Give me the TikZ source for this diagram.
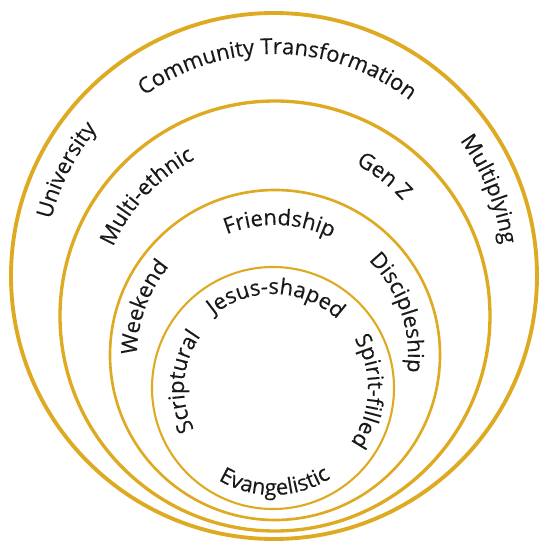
\documentclass[tikz,border=0pt]{standalone}
\usepackage{fontspec}
\setmainfont{Open Sans}[FakeBold=0.3]
\usetikzlibrary{decorations.text}

\definecolor{gold}{RGB}{222,170,34}
\definecolor{ink}{RGB}{25,25,25}

\begin{document}
\begin{tikzpicture}[
	ring/.style={draw=gold, line width=#1},
	curved/.style={decorate, decoration={text along path, text align=center,
		text color=ink, text={|\fontsize{12.5}{15}\selectfont|#1}}}]
	\useasboundingbox (0,0) rectangle (10.86,10.90);

	\coordinate (C1) at (5.48,5.38);
	\coordinate (C2) at (5.50,4.58);
	\coordinate (C3) at (5.50,3.80);
	\coordinate (C4) at (5.46,3.14);

	\draw[ring=2.2pt] (C1) circle (5.26);
	\draw[ring=1.9pt] (C2) circle (4.30);
	\draw[ring=1.5pt] (C3) circle (3.30);
	\draw[ring=1.2pt] (C4) circle (2.42);

	% outer band
	\path[curved={Community Transformation}] ([shift={(149:4.44)}]C1) arc[start angle=149, end angle=29, radius=4.44];
	\path[curved={University}] ([shift={(193:4.60)}]C1) arc[start angle=193, end angle=113, radius=4.60];
	\path[curved={Multiplying}] ([shift={(62:4.60)}]C1) arc[start angle=62, end angle=-18, radius=4.60];

	% second band
	\path[curved={Multi-ethnic}] ([shift={(180:3.52)}]C2) arc[start angle=180, end angle=94, radius=3.52];
	\path[curved={Gen Z}] ([shift={(82:3.44)}]C2) arc[start angle=82, end angle=22, radius=3.44];

	% third band
	\path[curved={Friendship}] ([shift={(128:2.60)}]C3) arc[start angle=128, end angle=48, radius=2.60];
	\path[curved={Weekend}] ([shift={(200:2.76)}]C3) arc[start angle=200, end angle=120, radius=2.76];
	\path[curved={Discipleship}] ([shift={(64:2.66)}]C3) arc[start angle=64, end angle=-26, radius=2.66];

	% inner circle
	\path[curved={Jesus-shaped}] ([shift={(138:1.88)}]C4) arc[start angle=138, end angle=38, radius=1.88];
	\path[curved={Scriptural}] ([shift={(226:1.78)}]C4) arc[start angle=226, end angle=126, radius=1.78];
	\path[curved={Spirit-filled}] ([shift={(48:1.90)}]C4) arc[start angle=48, end angle=-52, radius=1.90];
	\path[curved={Evangelistic}] ([shift={(224:2.14)}]C4) arc[start angle=224, end angle=318, radius=2.14];
\end{tikzpicture}
\end{document}
